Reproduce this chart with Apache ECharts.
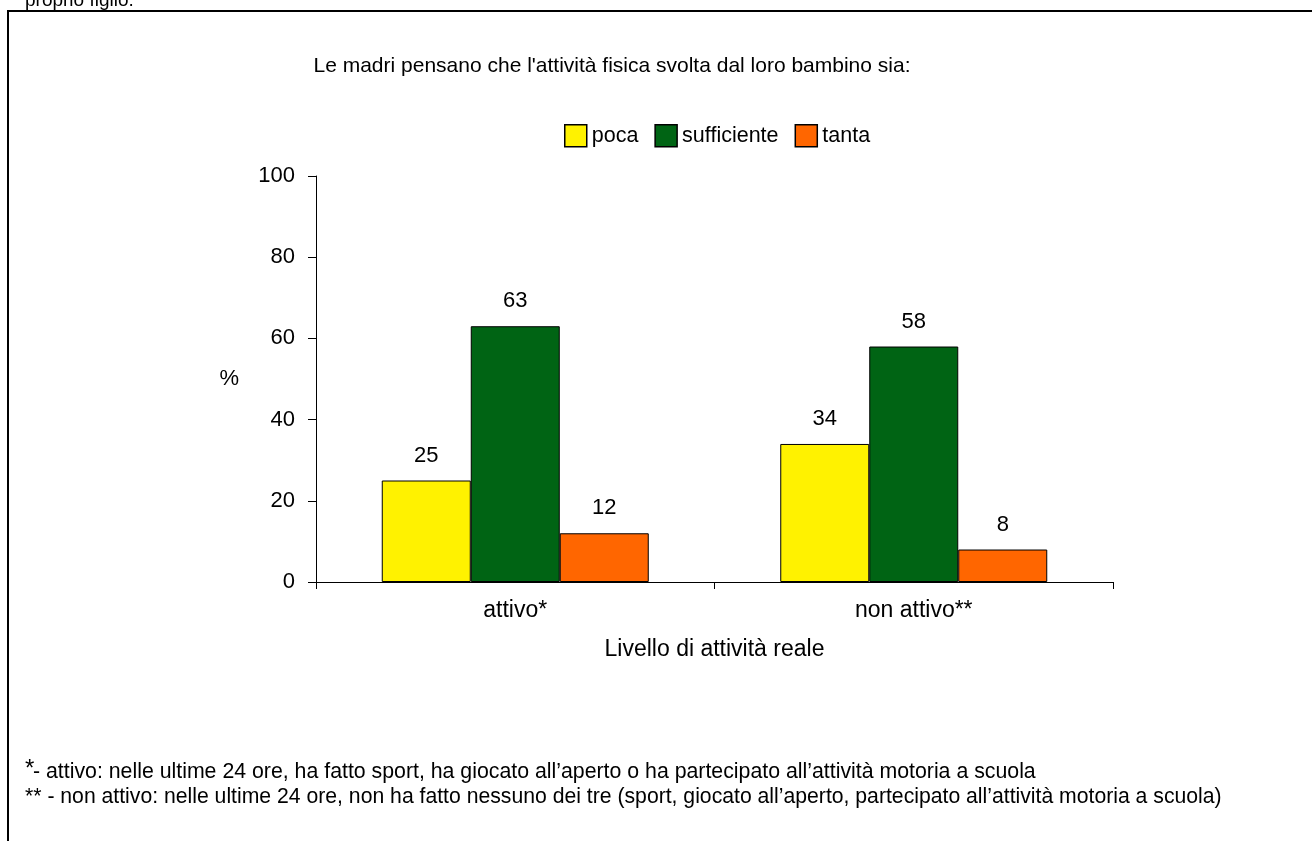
<!DOCTYPE html>
<html>
<head>
<meta charset="utf-8">
<script src="https://cdn.jsdelivr.net/npm/echarts@6/dist/echarts.min.js"></script>
<style>
  html, body { margin: 0; padding: 0; background: #fff; }
  #chart { width: 1312px; height: 841px; }
</style>
</head>
<body>
<div id="chart"></div>
<script>
const categories = ['attivo*', 'non attivo**'];
const poca = [25, 34];
const sufficiente = [63, 58];
const tanta = [12, 8];
const yTicks = [0, 20, 40, 60, 80, 100];

const font = 'Liberation Sans, Arial, sans-serif';
const chart = echarts.init(document.getElementById('chart'));

function barSeries(name, data, color) {
  return {
    name,
    type: 'bar',
    data,
    barWidth: 89,
    barGap: '0%',
    itemStyle: { color, borderColor: '#000', borderWidth: 1 },
    label: {
      show: true,
      position: 'top',
      distance: 14,
      color: '#000',
      fontFamily: font,
      fontSize: 22
    }
  };
}

chart.setOption({
  animation: false,
  textStyle: { fontFamily: font },
  title: {
    text: "Le madri pensano che l'attività fisica svolta dal loro bambino sia:",
    left: 612,
    top: 56,
    textAlign: 'center',
    padding: 0,
    textStyle: { fontFamily: font, fontSize: 21, fontWeight: 'normal', color: '#000' }
  },
  legend: {
    top: 124,
    left: 564,
    padding: 0,
    itemWidth: 22,
    itemHeight: 22,
    itemGap: 16,
    icon: 'rect',
    itemStyle: { borderColor: '#000', borderWidth: 1.5 },
    textStyle: { fontFamily: font, fontSize: 21.5, color: '#000' },
    data: ['poca', 'sufficiente', 'tanta']
  },
  grid: { left: 316, right: 199, top: 176, bottom: 259 },
  xAxis: {
    type: 'category',
    data: categories,
    name: 'Livello di attività reale',
    nameLocation: 'middle',
    nameGap: 56,
    nameTextStyle: { fontFamily: font, fontSize: 23, color: '#000' },
    axisLine: { lineStyle: { color: '#000', width: 1 } },
    axisTick: { show: true, length: 7, lineStyle: { color: '#000' } },
    axisLabel: { color: '#000', fontSize: 23, fontFamily: font, margin: 17 }
  },
  yAxis: {
    type: 'value',
    min: yTicks[0],
    max: yTicks[yTicks.length - 1],
    interval: 20,
    name: '%',
    nameLocation: 'middle',
    nameRotate: 0,
    nameGap: 77,
    nameTextStyle: { fontFamily: font, fontSize: 22, color: '#000' },
    splitLine: { show: false },
    axisLine: { show: true, lineStyle: { color: '#000', width: 1 } },
    axisTick: { show: true, length: 8, lineStyle: { color: '#000' } },
    axisLabel: { color: '#000', fontSize: 22, fontFamily: font, margin: 21 }
  },
  series: [
    barSeries('poca', poca, '#FFF200'),
    barSeries('sufficiente', sufficiente, '#006414'),
    barSeries('tanta', tanta, '#FF6600')
  ],
  graphic: [
    {
      type: 'rect',
      shape: { x: 8, y: 11, width: 1320, height: 850 },
      style: { fill: null, stroke: '#000', lineWidth: 2 },
      silent: true
    },
    {
      type: 'text',
      left: 25,
      top: -9,
      style: { text: 'proprio figlio.', font: '19px ' + font, fill: '#000' }
    },
    {
      type: 'text',
      left: 25,
      top: 757,
      style: { text: '*', font: '24px ' + font, fill: '#000' }
    },
    {
      type: 'text',
      left: 33,
      top: 762,
      style: {
        text: '- attivo: nelle ultime 24 ore, ha fatto sport, ha giocato all\u2019aperto o ha partecipato all\u2019attività motoria a scuola',
        font: '21.3px ' + font, fill: '#000'
      }
    },
    {
      type: 'text',
      left: 25,
      top: 787,
      style: {
        text: '** - non attivo: nelle ultime 24 ore, non ha fatto nessuno dei tre (sport, giocato all\u2019aperto, partecipato all\u2019attività motoria a scuola)',
        font: '21.2px ' + font, fill: '#000'
      }
    }
  ]
});
</script>
</body>
</html>
